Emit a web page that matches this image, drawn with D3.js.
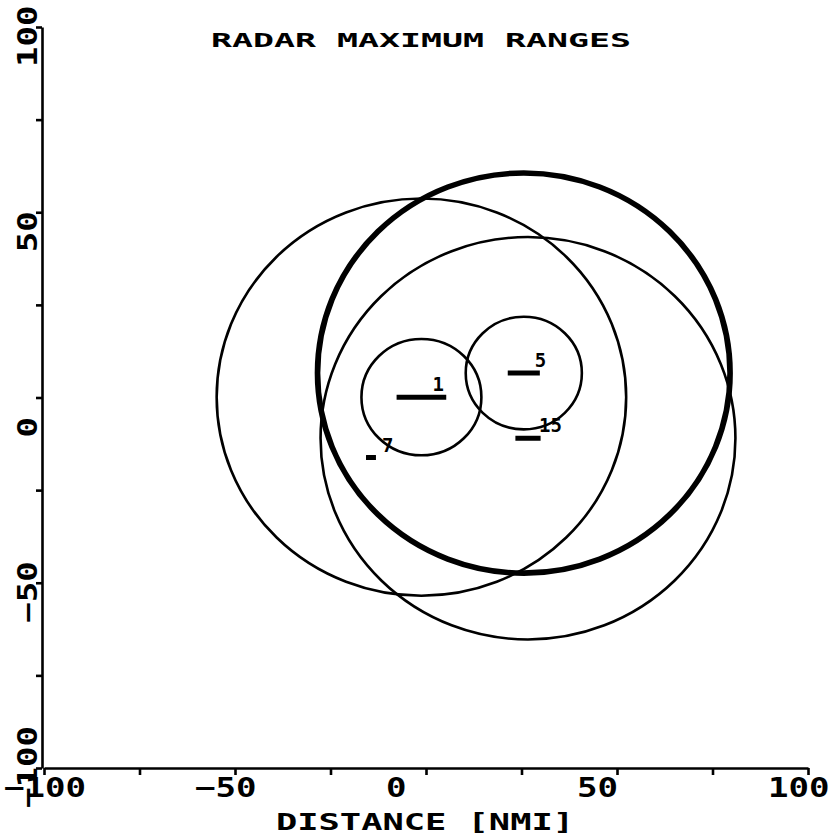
<html>

<head>
  <meta charset="utf-8">
  <title>Radar Maximum Ranges</title>
  <script src="https://d3js.org/d3.v7.min.js"></script>
  <style>
    body { margin: 0; background: #fff; }
    text { font-family: "DejaVu Sans Mono", monospace; font-weight: bold; fill: #000; }
  </style>
</head>

<body>
  <div id="vis"></div>

  <script type="text/javascript">

    // Radar sites (NMI)
    var siteNames = ['1', '5', '15', '7'];
    var siteX = [-1.2, 25.6, 26.7, -14.4];
    var siteY = [0.1, 6.6, -11.0, -16.2];
    var siteSpan = [13, 8.4, 6.6, 2.6];   // length of the plotted site symbol, NMI

    // Maximum range circles, one entry per circle drawn
    var rangeSite = ['1', '1', '5', '5', '5', '5', '15'];
    var rangeNmi = [53.6, 15.7, 15.2, 53.6, 54.0, 54.4, 54.3];

    // Axes
    var tickValues = [-100, -75, -50, -25, 0, 25, 50, 75, 100];
    var labelValues = [-100, -50, 0, 50, 100];
    var chartTitle = 'RADAR MAXIMUM RANGES';
    var xTitle = 'DISTANCE [NMI]';

    var width = 832;
    var height = 839;

    var x = d3.scaleLinear().domain([-100, 100]).range([44, 808]);
    var y = d3.scaleLinear().domain([-100, 100]).range([768, 27]);

    var svg = d3.select('#vis')
                .append('svg')
                  .attr('width', width)
                  .attr('height', height);

    var fmt = d3.format('d');

    // x axis
    var x_axis = d3.axisBottom(x).tickValues(tickValues).tickSize(7).tickSizeOuter(0).tickFormat('');
    svg.append('g')
          .attr('transform', 'translate(0,' + y(-100) + ')')
          .call(x_axis);

    // y axis
    var y_axis = d3.axisLeft(y).tickValues(tickValues).tickSize(6).tickSizeOuter(0).tickFormat('');
    svg.append('g')
          .attr('transform', 'translate(' + (x(-100) - 2) + ',0)')
          .call(y_axis);

    svg.selectAll('.domain, .tick line')
          .attr('stroke', '#000')
          .attr('stroke-width', 2.6);

    // tick labels, start anchored a bit before the tick like the plotter did
    svg.selectAll('text.xlab')
          .data(labelValues)
        .enter().append('text')
          .attr('class', 'xlab')
          .attr('x', function(d) { return x(d) - 40; })
          .attr('y', 797)
          .attr('font-size', 27)
          .attr('textLength', function(d) { return fmt(d).length * 20.5; })
          .attr('lengthAdjust', 'spacingAndGlyphs')
          .text(function(d) { return fmt(d); });

    svg.selectAll('text.ylab')
          .data(labelValues)
        .enter().append('text')
          .attr('class', 'ylab')
          .attr('transform', function(d) { return 'translate(37,' + (y(d) + 40) + ') rotate(-90)'; })
          .attr('font-size', 27)
          .attr('textLength', function(d) { return fmt(d).length * 20.5; })
          .attr('lengthAdjust', 'spacingAndGlyphs')
          .text(function(d) { return fmt(d); });

    // titles
    svg.append('text')
          .attr('x', 211)
          .attr('y', 47)
          .attr('font-size', 19)
          .attr('textLength', 420)
          .attr('lengthAdjust', 'spacingAndGlyphs')
          .text(chartTitle);

    svg.append('text')
          .attr('x', 276)
          .attr('y', 830)
          .attr('font-size', 23)
          .attr('textLength', 298)
          .attr('lengthAdjust', 'spacingAndGlyphs')
          .text(xTitle);

    // range circles
    var circles = rangeNmi.map(function(r, i) {
      var k = siteNames.indexOf(rangeSite[i]);
      return { cx: siteX[k], cy: siteY[k], r: r };
    });

    svg.selectAll('ellipse.range')
          .data(circles)
        .enter().append('ellipse')
          .attr('class', 'range')
          .attr('cx', function(d) { return x(d.cx); })
          .attr('cy', function(d) { return y(d.cy); })
          .attr('rx', function(d) { return x(d.cx + d.r) - x(d.cx); })
          .attr('ry', function(d) { return y(d.cy) - y(d.cy + d.r); })
          .attr('fill', 'none')
          .attr('stroke', '#000')
          .attr('stroke-width', 2.6);

    // site symbols and names
    var sites = siteNames.map(function(n, i) {
      return { name: n, x: siteX[i], y: siteY[i], span: siteSpan[i] };
    });

    svg.selectAll('line.site')
          .data(sites)
        .enter().append('line')
          .attr('class', 'site')
          .attr('x1', function(d) { return x(d.x - d.span / 2); })
          .attr('x2', function(d) { return x(d.x + d.span / 2); })
          .attr('y1', function(d) { return y(d.y); })
          .attr('y2', function(d) { return y(d.y); })
          .attr('stroke', '#000')
          .attr('stroke-width', 5);

    svg.selectAll('text.site')
          .data(sites)
        .enter().append('text')
          .attr('class', 'site')
          .attr('x', function(d) { return x(d.x) + 11; })
          .attr('y', function(d) { return y(d.y) - 6; })
          .attr('font-size', 19)
          .text(function(d) { return d.name; });

  </script>
</body>

</html>
